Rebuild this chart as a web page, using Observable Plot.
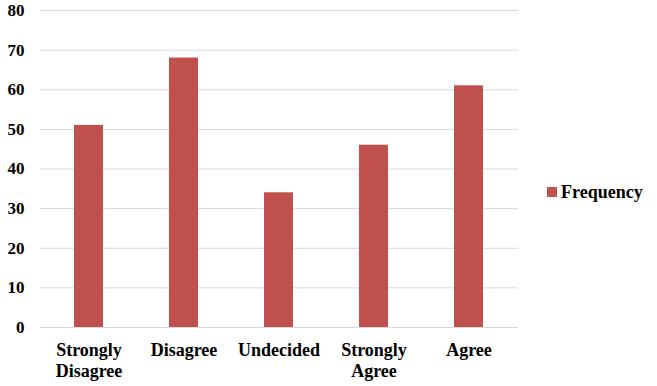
<!DOCTYPE html>
<html>
<head>
<meta charset="utf-8">
<script src="https://cdn.jsdelivr.net/npm/d3@7"></script>
<script src="https://cdn.jsdelivr.net/npm/@observablehq/plot@0.6"></script>
<style>
  html, body { margin: 0; padding: 0; background: #fff; }
  #wrap { position: relative; width: 657px; height: 386px; }
  #legend { position: absolute; left: 547px; top: 180px; font-family: "Liberation Serif", serif; font-weight: bold; font-size: 18px; line-height: 24px; color: #000; display: flex; align-items: center; }
  #legend .sw { width: 10px; height: 10px; background: #C0504D; margin-right: 4px; }
</style>
</head>
<body>
<div id="wrap"><div id="legend"><span class="sw"></span><span>Frequency</span></div></div>
<script>
const categories = ["Strongly\nDisagree", "Disagree", "Undecided", "Strongly\nAgree", "Agree"];
const frequency = [51, 68, 34, 46, 61];
const yTicks = [0, 10, 20, 30, 40, 50, 60, 70, 80];
const seriesName = "Frequency";

const data = categories.map((c, i) => ({category: c, value: frequency[i]}));

const serif = "'Liberation Serif', serif";
const chart = Plot.plot({
  width: 657,
  height: 386,
  marginLeft: 40,
  marginRight: 139,
  marginTop: 10,
  marginBottom: 59,
  style: {fontFamily: serif, fontSize: "16px", fontWeight: "bold", color: "#000", background: "#fff"},
  x: {domain: categories, paddingInner: 0.69, paddingOuter: 0.345, label: null},
  y: {domain: [0, 80], label: null},
  marks: [
    Plot.gridY(yTicks, {stroke: "#d9d9d9", strokeOpacity: 1, strokeWidth: 1}),
    Plot.barY(data, {x: "category", y: "value", fill: "#C0504D"}),
    Plot.axisY(yTicks, {tickSize: 0, tickPadding: 16, label: null, fontSize: 17, fontWeight: "bold", fontFamily: serif}),
    Plot.axisX({tickSize: 0, tickPadding: 14, label: null, fontSize: 18, fontWeight: "bold", fontFamily: serif, lineHeight: 1.15})
  ]
});
document.getElementById("wrap").prepend(chart);
</script>
</body>
</html>
